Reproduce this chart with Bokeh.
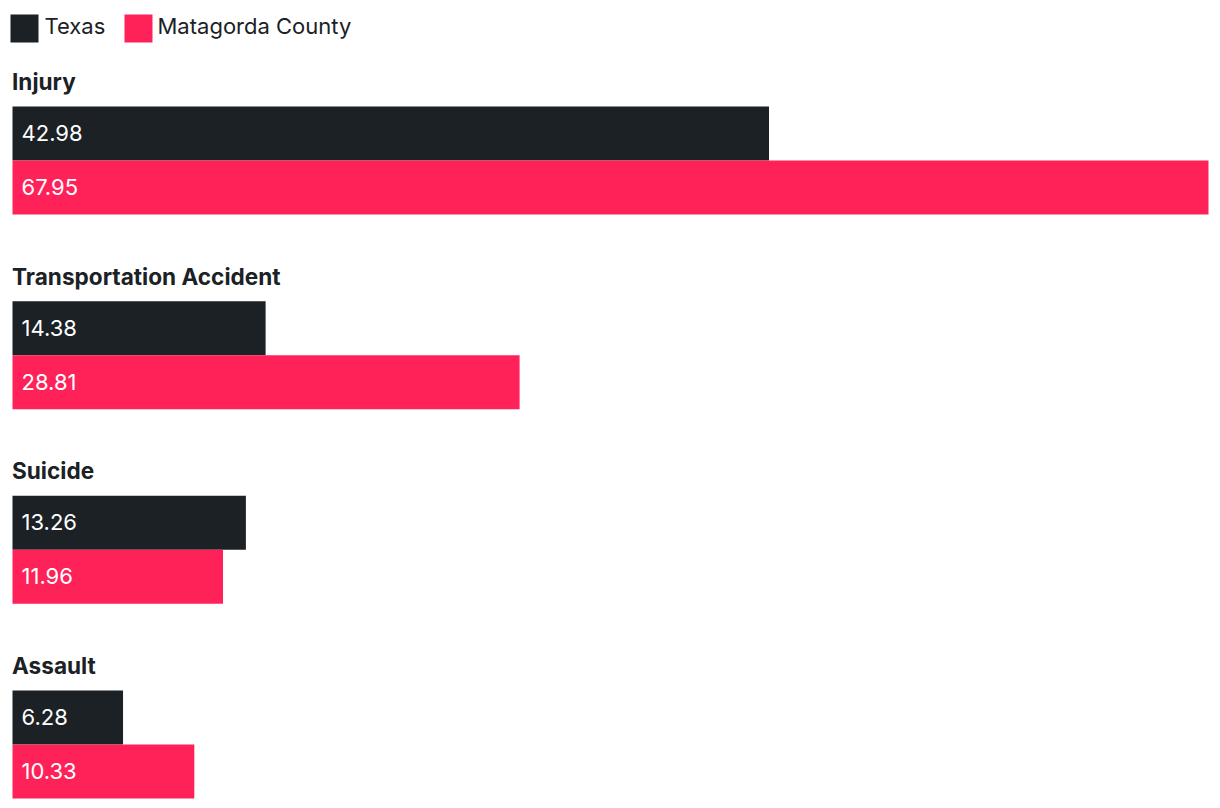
from bokeh.plotting import figure
from bokeh.models import Range1d, ColumnDataSource
from bokeh.core.properties import value
from bokeh.embed import file_html
from bokeh.resources import INLINE

categories = ["Injury", "Transportation Accident", "Suicide", "Assault"]
texas = [42.98, 14.38, 13.26, 6.28]
matagorda = [67.95, 28.81, 11.96, 10.33]
series_names = ["Texas", "Matagorda County"]
colors = ["#1b2125", "#ff2259"]

W, H = 1220, 808
left_px, right_px = 12, 1208
vmax = max(max(texas), max(matagorda))
s = (right_px - left_px) / vmax  # px per unit

def px(xp):
    return (xp - left_px) / s

p = figure(width=W, height=H, output_backend="svg", toolbar_location=None,
           x_range=Range1d(px(0), px(W)), y_range=Range1d(H, 0),
           min_border=0, outline_line_color=None)
p.axis.visible = False
p.grid.visible = False
p.background_fill_color = "white"
p.border_fill_color = "white"

first_top, gap, bar_h = 106, 194.67, 54
tops = [first_top + i * gap for i in range(len(categories))]

src_t = ColumnDataSource(dict(top=tops, bottom=[t + bar_h for t in tops], right=texas,
                              lab=[f"{v:.2f}" for v in texas],
                              y=[t + bar_h / 2 - 0.5 for t in tops]))
src_m = ColumnDataSource(dict(top=[t + bar_h for t in tops], bottom=[t + 2 * bar_h for t in tops],
                              right=matagorda, lab=[f"{v:.2f}" for v in matagorda],
                              y=[t + 1.5 * bar_h - 0.5 for t in tops]))

for src, c in [(src_t, colors[0]), (src_m, colors[1])]:
    p.quad(left=0, right="right", top="top", bottom="bottom", source=src,
           fill_color=c, line_color=None)
    p.text(x=px(21), y="y", text="lab", source=src, text_color="white",
           text_font=value("Inter"), text_font_size="22px", text_baseline="middle")

# category labels
p.text(x=[px(11.5)] * len(categories), y=[t - 25 for t in tops], text=categories,
       text_font=value("Inter"), text_font_size="22.6px", text_font_style="bold",
       text_color="#1b2125", text_baseline="middle")

# legend
sw_x = [10, 124]
txt_x = [44, 157]
p.quad(left=[px(x) for x in sw_x], right=[px(x + 28) for x in sw_x],
       top=[14, 14], bottom=[42, 42], fill_color=colors, line_color=None)
p.text(x=[px(x) for x in txt_x], y=[25.5, 25.5], text=series_names,
       text_font=value("Inter"), text_font_size="22px", text_color="#1b2125",
       text_baseline="middle")

open("out.html", "w").write(file_html(p, INLINE))
